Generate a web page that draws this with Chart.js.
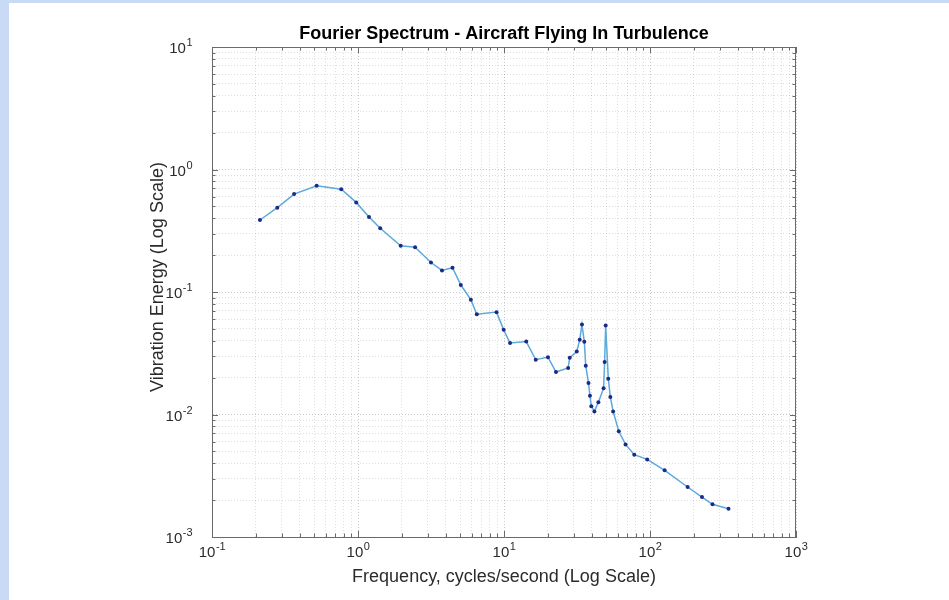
<!DOCTYPE html>
<html>
<head>
<meta charset="utf-8">
<title>Fourier Spectrum</title>
<script src="https://cdn.jsdelivr.net/npm/chart.js@4.4.1/dist/chart.umd.min.js"></script>
<style>
  html, body { margin: 0; padding: 0; background: #fff; }
  #edgeLeft { position: absolute; left: 0; top: 0; width: 9px; height: 600px; background: #c8daf5; }
  #edgeTop { position: absolute; left: 0; top: 0; width: 949px; height: 3px; background: #c8daf5; }
  canvas { position: absolute; left: 0; top: 0; }
</style>
</head>
<body>
<div id="edgeLeft"></div>
<div id="edgeTop"></div>
<canvas id="spectrumChart" width="949" height="600"></canvas>
<script>
// spectrum samples (cycles/second, energy)
const frequency = [0.213, 0.280, 0.365, 0.521, 0.768, 0.972, 1.19, 1.42, 1.96, 2.46,
    3.16, 3.76, 4.44, 5.06, 5.93, 6.51, 8.89, 9.95, 11.0, 14.2,
    16.5, 20.0, 22.7, 27.5, 28.2, 31.5, 33.0, 34.2, 35.5, 36.3,
    37.9, 38.8, 39.6, 41.6, 44.3, 48.1, 48.9, 49.7, 51.8, 53.5,
    55.9, 61.1, 68.0, 78.0, 95.7, 126, 181, 227, 268, 345];
const energy = [0.387, 0.488, 0.630, 0.737, 0.691, 0.539, 0.410, 0.331, 0.238, 0.232,
    0.174, 0.150, 0.158, 0.114, 0.0866, 0.0659, 0.0685, 0.0491, 0.0383, 0.0394,
    0.0280, 0.0294, 0.0222, 0.0240, 0.0291, 0.0327, 0.0407, 0.0542, 0.0392, 0.0250,
    0.0181, 0.0142, 0.0117, 0.0106, 0.0126, 0.0164, 0.0268, 0.0532, 0.0196, 0.0139,
    0.0106, 0.0073, 0.0057, 0.0047, 0.0043, 0.0035, 0.00256, 0.00212, 0.00185, 0.0017];

// decade tick labels
const xDecades = [0.1, 1, 10, 100, 1000];
const yDecades = [0.001, 0.01, 0.1, 1, 10];

const yTitle = 'Vibration Energy (Log Scale)';

const fontFamily = '"Liberation Sans", Arial, Helvetica, sans-serif';
const textColor = '#2b2b2b';
const axisColor = '#6a6a6a';
const majorGrid = 'rgba(0,0,0,0.22)';
const minorGrid = 'rgba(0,0,0,0.13)';

function isMajor(v) {
    const e = Math.log10(v);
    return Math.abs(e - Math.round(e)) < 1e-9;
}

// 1..9 x 10^k ticks between the decades
function logTicks(decades) {
    const out = [];
    for (let i = 0; i < decades.length - 1; i++) {
        for (let m = 1; m < 10; m++) out.push({ value: decades[i] * m });
    }
    out.push({ value: decades[decades.length - 1] });
    return out;
}

function drawPower(ctx, v, x, y, align) {
    const exp = String(Math.round(Math.log10(v)));
    ctx.font = '15px ' + fontFamily;
    const wb = ctx.measureText('10').width;
    ctx.font = '11px ' + fontFamily;
    const we = ctx.measureText(exp).width;
    const start = align === 'right' ? x - wb - we : x - (wb + we) / 2;
    ctx.textAlign = 'left';
    ctx.textBaseline = 'middle';
    ctx.font = '15px ' + fontFamily;
    ctx.fillText('10', start, y);
    ctx.font = '11px ' + fontFamily;
    ctx.fillText(exp, start + wb + 0.5, y - 6);
}

// box, inward ticks, 10^n labels and the y axis title
const axesFrame = {
    id: 'axesFrame',
    afterDraw(chart) {
        const { ctx, chartArea: a, scales: { x, y } } = chart;
        ctx.save();
        ctx.strokeStyle = axisColor;
        ctx.lineWidth = 1;
        ctx.beginPath();
        ctx.moveTo(a.left, a.top + 0.5);
        ctx.lineTo(a.right, a.top + 0.5);
        ctx.moveTo(a.right - 0.5, a.top);
        ctx.lineTo(a.right - 0.5, a.bottom);
        x.ticks.forEach(t => {
            const px = Math.round(x.getPixelForValue(t.value)) + 0.5;
            const len = isMajor(t.value) ? 6 : 3.5;
            ctx.moveTo(px, a.bottom);
            ctx.lineTo(px, a.bottom - len);
            ctx.moveTo(px, a.top);
            ctx.lineTo(px, a.top + len);
        });
        y.ticks.forEach(t => {
            const py = Math.round(y.getPixelForValue(t.value)) + 0.5;
            const len = isMajor(t.value) ? 6 : 3.5;
            ctx.moveTo(a.left, py);
            ctx.lineTo(a.left + len, py);
            ctx.moveTo(a.right, py);
            ctx.lineTo(a.right - len, py);
        });
        ctx.stroke();

        ctx.fillStyle = textColor;
        xDecades.forEach(v => drawPower(ctx, v, x.getPixelForValue(v), a.bottom + 16, 'center'));
        yDecades.forEach(v => drawPower(ctx, v, a.left - 20, y.getPixelForValue(v) + 2, 'right'));

        ctx.translate(a.left - 54, (a.top + a.bottom) / 2 - 15);
        ctx.rotate(-Math.PI / 2);
        ctx.textAlign = 'center';
        ctx.textBaseline = 'middle';
        ctx.font = '18px ' + fontFamily;
        ctx.fillText(yTitle, 0, 0);
        ctx.restore();
    }
};

const gridColor = ctx => (ctx.tick && isMajor(ctx.tick.value)) ? majorGrid : minorGrid;

new Chart(document.getElementById('spectrumChart'), {
    type: 'line',
    data: {
        datasets: [{
            data: frequency.map((f, i) => ({ x: f, y: energy[i] })),
            borderColor: '#5aaadc',
            borderWidth: 1.5,
            pointRadius: 2,
            pointBorderWidth: 0,
            pointBackgroundColor: '#1c2a86',
            tension: 0
        }]
    },
    options: {
        responsive: false,
        animation: false,
        layout: { padding: { top: 23, right: 153, left: 0, bottom: 0 } },
        scales: {
            x: {
                type: 'logarithmic',
                min: 0.1,
                max: 1000,
                afterBuildTicks: s => { s.ticks = logTicks(xDecades); },
                afterFit: s => { s.height = 63; },
                ticks: { display: false, autoSkip: false },
                grid: { color: gridColor, drawTicks: false },
                border: { color: axisColor, width: 1, dash: [1, 2] },
                title: {
                    display: true,
                    text: 'Frequency, cycles/second (Log Scale)',
                    color: textColor,
                    font: { family: fontFamily, size: 18 },
                    padding: { top: 0, bottom: 12 }
                }
            },
            y: {
                type: 'logarithmic',
                min: 0.001,
                max: 10,
                afterBuildTicks: s => { s.ticks = logTicks(yDecades); },
                afterFit: s => { s.width = 212; },
                ticks: { display: false, autoSkip: false },
                grid: { color: gridColor, drawTicks: false },
                border: { color: axisColor, width: 1, dash: [1, 2] },
                title: { display: false }
            }
        },
        plugins: {
            legend: { display: false },
            tooltip: { enabled: false },
            title: {
                display: true,
                fullSize: false,
                text: 'Fourier Spectrum - Aircraft Flying In Turbulence',
                color: '#000',
                font: { family: fontFamily, size: 18, weight: 'bold', lineHeight: 1.2 },
                padding: { top: 0, bottom: 2.4 }
            }
        }
    },
    plugins: [axesFrame]
});
</script>
</body>
</html>
